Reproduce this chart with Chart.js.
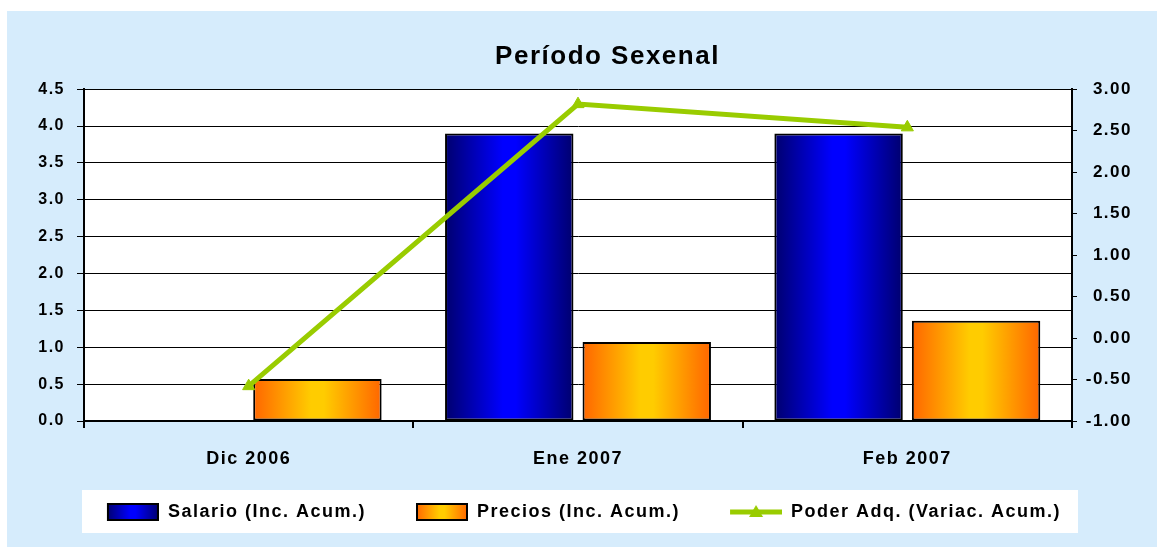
<!DOCTYPE html>
<html lang="es">
<head>
<meta charset="utf-8">
<title>Período Sexenal</title>
<script src="https://cdn.jsdelivr.net/npm/chart.js@4.4.1/dist/chart.umd.min.js"></script>
<style>
    html, body {
        margin: 0;
        padding: 0;
        background: #ffffff;
    }
    .chart-box {
        position: absolute;
        left: 7px;
        top: 11px;
        width: 1150px;
        height: 536px;
        background: #d6ecfc;
    }
</style>
</head>
<body>
<div class="chart-box">
    <canvas id="sexenal-chart" width="1150" height="536"></canvas>
</div>
<script>

const labels = ['Dic 2006', 'Ene 2007', 'Feb 2007'];
const salario = [0, 3.9, 3.9];
const precios = [0.57, 1.07, 1.36];
const poderAdq = [-0.58, 2.82, 2.54];

const leftTicks = [0, 0.5, 1, 1.5, 2, 2.5, 3, 3.5, 4, 4.5];
const rightTicks = [-1, -0.5, 0, 0.5, 1, 1.5, 2, 2.5, 3];

const fontFamily = 'Arial, "Liberation Sans", sans-serif';
const green = '#99cc00';

const gradStops = {
    blue: ['#00006e', '#0000ff', '#0000ff', '#00006e'],
    orange: ['#ff6600', '#ffcc00', '#ffcc00', '#ff6600']
};

function fillGradient(ctx, x0, x1, stops) {
    const g = ctx.createLinearGradient(x0, 0, x1, 0);
    g.addColorStop(0, stops[0]);
    g.addColorStop(0.45, stops[1]);
    g.addColorStop(0.55, stops[2]);
    g.addColorStop(1, stops[3]);
    return g;
}

// iconos de la leyenda (margen transparente a la izquierda = espacio entre elementos)
const iconMargin = 29;

function boxIcon(stops) {
    const c = document.createElement('canvas');
    c.width = iconMargin + 52;
    c.height = 18;
    const x = c.getContext('2d');
    x.fillStyle = fillGradient(x, iconMargin, iconMargin + 52, stops);
    x.fillRect(iconMargin + 1, 1, 50, 16);
    x.strokeStyle = '#000';
    x.lineWidth = 2;
    x.strokeRect(iconMargin + 1, 1, 50, 16);
    return c;
}

function lineIcon() {
    const c = document.createElement('canvas');
    c.width = iconMargin + 52;
    c.height = 18;
    const x = c.getContext('2d');
    x.strokeStyle = green;
    x.lineWidth = 5;
    x.beginPath();
    x.moveTo(iconMargin, 9);
    x.lineTo(iconMargin + 52, 9);
    x.stroke();
    x.fillStyle = green;
    x.beginPath();
    x.moveTo(iconMargin + 26, 2);
    x.lineTo(iconMargin + 33, 14);
    x.lineTo(iconMargin + 19, 14);
    x.closePath();
    x.fill();
    return c;
}

const legendIcons = [boxIcon(gradStops.blue), boxIcon(gradStops.orange), lineIcon()];

const chartDecor = {
    id: 'chartDecor',
    beforeUpdate(chart) {
        chart.ctx.letterSpacing = '1.5px';
    },
    afterLayout(chart) {
        // el título va algo a la derecha del centro, como en el original
        chart.titleBlock.left += 38;
        chart.titleBlock.right += 38;
    },
    beforeDraw(chart) {
        const {ctx, chartArea, legend} = chart;
        ctx.letterSpacing = '1.5px';
        ctx.save();
        ctx.fillStyle = '#ffffff';
        ctx.fillRect(chartArea.left, chartArea.top, chartArea.right - chartArea.left, chartArea.bottom - chartArea.top);
        ctx.fillRect(chartArea.left - 2, legend.top + 8, chartArea.right - chartArea.left + 8, 43);
        ctx.restore();
    },
    beforeDatasetsDraw(chart) {
        const ctx = chart.ctx;
        [0, 1].forEach(i => {
            const stops = i === 0 ? gradStops.blue : gradStops.orange;
            chart.getDatasetMeta(i).data.forEach(el => {
                el.options.backgroundColor = fillGradient(ctx, el.x - el.width / 2, el.x + el.width / 2, stops);
            });
        });
    }
};

const ctx = document.getElementById('sexenal-chart').getContext('2d');
const myChart = new Chart(ctx, {
    data: {
        labels: labels,
        datasets: [
            {
                type: 'bar',
                label: 'Salario (Inc. Acum.)',
                data: salario,
                yAxisID: 'y',
                order: 1,
                backgroundColor: () => '#0000ff',
                borderColor: '#000000',
                borderWidth: 2,
                borderSkipped: false,
                categoryPercentage: 0.835,
                barPercentage: 0.934
            },
            {
                type: 'bar',
                label: 'Precios (Inc. Acum.)',
                data: precios,
                yAxisID: 'y',
                order: 1,
                backgroundColor: () => '#ffcc00',
                borderColor: '#000000',
                borderWidth: 2,
                borderSkipped: false,
                categoryPercentage: 0.835,
                barPercentage: 0.934
            },
            {
                type: 'line',
                label: 'Poder Adq. (Variac. Acum.)',
                data: poderAdq,
                yAxisID: 'y1',
                order: 0,
                borderColor: green,
                backgroundColor: green,
                borderWidth: 5,
                pointStyle: 'triangle',
                pointRadius: 7,
                pointBackgroundColor: green,
                pointBorderColor: green,
                pointBorderWidth: 1,
                tension: 0
            }
        ]
    },
    options: {
        responsive: false,
        animation: false,
        layout: {
            padding: {left: 0, right: 25, top: 0, bottom: 16}
        },
        plugins: {
            title: {
                display: true,
                text: 'Período Sexenal',
                color: '#000000',
                font: {family: fontFamily, size: 26, weight: 'bold'},
                padding: {top: 30, bottom: 17}
            },
            legend: {
                position: 'bottom',
                labels: {
                    usePointStyle: true,
                    pointStyleWidth: iconMargin + 52,
                    padding: 21,
                    color: '#000000',
                    font: {family: fontFamily, size: 18, weight: 'bold'},
                    generateLabels: chart => chart.data.datasets.map((ds, i) => ({
                        text: ds.label,
                        pointStyle: legendIcons[i],
                        datasetIndex: i,
                        lineWidth: 0,
                        hidden: false,
                        fontColor: '#000000'
                    }))
                }
            },
            tooltip: {enabled: false}
        },
        scales: {
            x: {
                grid: {
                    offset: true,
                    drawOnChartArea: false,
                    color: '#000000',
                    lineWidth: 2,
                    tickLength: 7
                },
                border: {color: '#000000', width: 2},
                ticks: {
                    color: '#000000',
                    padding: 20,
                    font: {family: fontFamily, size: 18, weight: 'bold'}
                },
                afterFit: scale => { scale.height = 61; }
            },
            y: {
                position: 'left',
                min: 0,
                max: 4.5,
                afterBuildTicks: scale => { scale.ticks = leftTicks.map(v => ({value: v})); },
                ticks: {
                    color: '#000000',
                    padding: 12,
                    callback: v => v.toFixed(1),
                    font: {family: fontFamily, size: 16, weight: 'bold'}
                },
                grid: {
                    color: '#000000',
                    lineWidth: 1,
                    tickLength: 7
                },
                border: {color: '#000000', width: 2},
                afterFit: scale => { scale.width = 77; }
            },
            y1: {
                position: 'right',
                min: -1,
                max: 3,
                afterBuildTicks: scale => { scale.ticks = rightTicks.map(v => ({value: v})); },
                ticks: {
                    color: '#000000',
                    padding: 10,
                    crossAlign: 'far',
                    callback: v => v.toFixed(2),
                    font: {family: fontFamily, size: 17, weight: 'bold'}
                },
                grid: {
                    drawOnChartArea: false,
                    color: '#000000',
                    tickLength: 5
                },
                border: {color: '#000000', width: 2},
                afterFit: scale => { scale.width = 60; }
            }
        }
    },
    plugins: [chartDecor]
});

</script>
</body>
</html>
